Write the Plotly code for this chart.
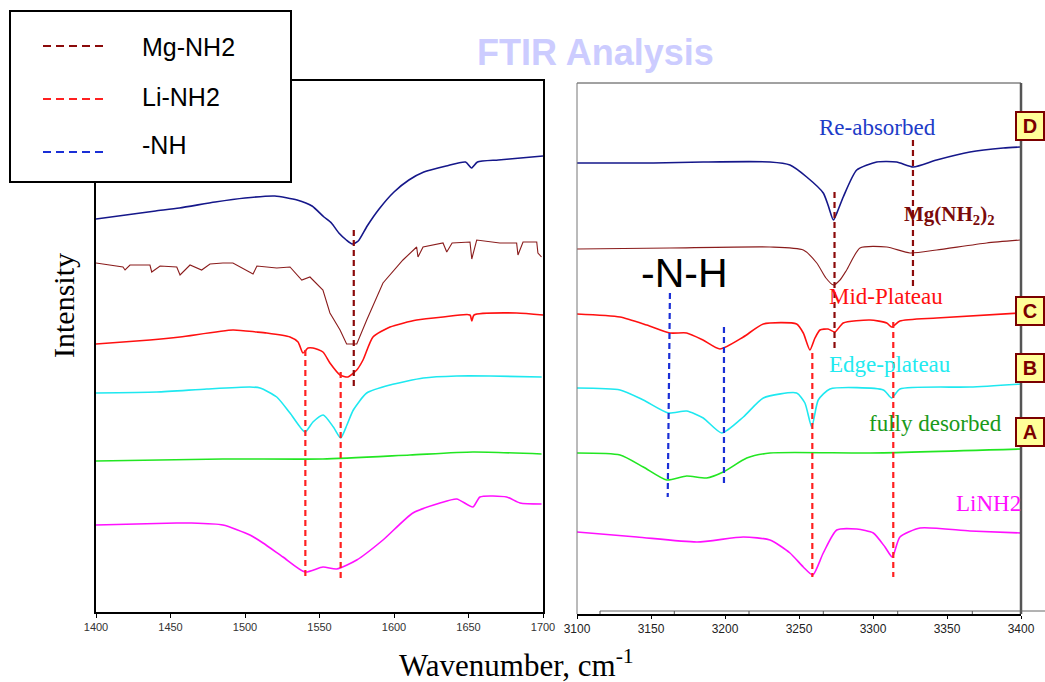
import plotly.graph_objects as go

W, H = 1045, 682

# ---------------- data: left panel (1400-1700 cm-1) ----------------
L_reabs_x = [1400, 1420, 1440, 1456, 1480, 1500, 1520, 1535, 1545, 1553, 1558, 1563, 1568, 1572, 1576, 1582, 1590, 1600, 1610, 1620, 1635, 1648, 1652, 1656, 1670, 1685, 1700]
L_reabs_y = [39.3, 39.7, 40.1, 40.4, 41.0, 41.4, 41.6, 41.2, 40.6, 39.5, 38.9, 37.9, 37.2, 36.8, 37.1, 38.6, 40.3, 42.0, 43.2, 44.0, 44.6, 45.0, 44.4, 45.0, 45.2, 45.4, 45.6]

L_mg_x = [1400, 1418.1, 1419.5, 1422.8, 1436.2, 1437.4, 1443, 1454.2, 1456.4, 1463.1, 1470.9, 1476.5, 1485.2, 1491.9, 1505.4, 1508, 1521.3, 1530.2, 1538.1, 1543.6, 1552.3, 1557, 1563.8, 1568.2, 1575, 1581.7, 1592.6, 1606, 1615.2, 1616.1, 1619.5, 1632.9, 1635.4, 1639, 1651, 1652.2, 1655.5, 1671, 1682.3, 1683.2, 1686.6, 1695.8, 1696.6, 1699]
L_mg_y = [34.9, 34.5, 34.2, 34.7, 34.7, 34.0, 34.6, 34.5, 33.7, 34.7, 34.2, 34.8, 34.9, 34.9, 33.8, 34.6, 34.4, 34.5, 33.2, 33.5, 32.2, 29.9, 28.2, 26.8, 26.8, 29.2, 32.9, 35.2, 36.5, 35.5, 36.5, 36.9, 36.0, 36.9, 37.0, 35.3, 37.2, 36.9, 36.9, 35.7, 37.0, 37.0, 35.9, 35.5]

L_mid_x = [1400, 1436.2, 1456.4, 1491.9, 1507.8, 1514.6, 1530.2, 1535.6, 1538.9, 1542.3, 1545.6, 1552.3, 1557, 1563.8, 1569.1, 1575, 1579.2, 1585.9, 1597.3, 1615.2, 1632.9, 1651, 1652.2, 1653.7, 1682.3, 1700]
L_mid_y = [26.8, 27.2, 27.5, 28.2, 28.0, 27.9, 27.5, 27.0, 25.9, 26.4, 26.4, 26.0, 24.9, 23.7, 23.5, 24.2, 25.2, 27.5, 28.5, 29.2, 29.5, 29.7, 29.1, 29.7, 29.9, 29.7]

L_edge_x = [1400, 1440.7, 1474.3, 1503.3, 1510.1, 1521.3, 1530.2, 1540.3, 1545.6, 1552.5, 1559.3, 1564.2, 1568.4, 1572.7, 1581.7, 1597.3, 1619.7, 1642.1, 1664.4, 1699.1]
L_edge_y = [21.9, 22.0, 22.3, 22.5, 22.4, 21.5, 19.9, 18.0, 19.0, 19.7, 18.5, 17.4, 18.7, 20.2, 21.9, 22.7, 23.4, 23.6, 23.6, 23.5]

L_full_x = [1400, 1485.2, 1552.3, 1610.7, 1653, 1699]
L_full_y = [15.1, 15.3, 15.3, 15.7, 16.0, 15.8]

L_linh2_x = [1400, 1454.2, 1463.1, 1485.2, 1503.3, 1512.1, 1525.5, 1540.3, 1552.3, 1561.5, 1575, 1592.6, 1612.7, 1630.9, 1642.1, 1653, 1657.7, 1675.6, 1684.6, 1699]
L_linh2_y = [8.7, 8.9, 8.9, 8.7, 7.7, 6.9, 5.5, 4.0, 4.5, 4.3, 5.2, 7.2, 9.9, 10.9, 11.3, 10.5, 11.5, 11.5, 10.9, 10.8]

# ---------------- data: right panel (3100-3400 cm-1) ----------------
R_reabs_x = [3100, 3117.8, 3151.6, 3185.3, 3230.4, 3243.9, 3255.2, 3266.4, 3269.6, 3273.2, 3276.4, 3279.9, 3289, 3302.5, 3316, 3327.2, 3343, 3365.5, 3388, 3399.3]
R_reabs_y = [45.1, 45.1, 45.1, 45.2, 45.2, 44.9, 43.7, 42.1, 40.9, 39.4, 40.4, 41.7, 44.4, 45.2, 45.2, 44.7, 45.4, 46.2, 46.6, 46.7]

R_mg_x = [3100, 3162.8, 3230.4, 3252.9, 3262, 3268.2, 3273.2, 3277.7, 3282.2, 3291.2, 3309.3, 3325, 3343, 3376.8, 3399.3]
R_mg_y = [36.5, 36.6, 36.7, 36.4, 35.1, 33.6, 32.9, 33.4, 34.4, 36.6, 36.7, 36.1, 36.4, 37.1, 37.4]

R_mid_x = [3100, 3129.1, 3147.1, 3162.8, 3174.1, 3185.1, 3196.6, 3212.4, 3225.9, 3248.4, 3252.9, 3257.4, 3260.8, 3264.2, 3269.6, 3274.3, 3279.9, 3298, 3309.3, 3312.6, 3318.2, 3343, 3399.3]
R_mid_y = [30.0, 29.7, 28.9, 28.1, 28.1, 27.4, 26.5, 27.7, 29.0, 29.0, 28.1, 26.4, 27.6, 28.4, 28.5, 28.2, 29.1, 29.4, 29.1, 28.7, 29.3, 29.6, 30.1]

R_edge_x = [3100, 3129.1, 3144.8, 3161.7, 3174.1, 3185.3, 3197.8, 3212.4, 3225.9, 3248.4, 3254, 3258.6, 3263, 3270.9, 3307, 3312.6, 3318.2, 3365.5, 3400]
R_edge_y = [22.6, 22.4, 21.4, 20.1, 20.3, 19.6, 18.1, 19.7, 21.6, 22.1, 21.1, 18.7, 21.4, 22.5, 22.4, 21.6, 22.5, 22.7, 23.0]

R_full_x = [3100, 3129.1, 3144.8, 3160.6, 3174.1, 3187.6, 3198.8, 3214.7, 3230.4, 3298, 3400]
R_full_y = [16.1, 15.9, 14.7, 13.4, 13.8, 13.6, 14.2, 15.6, 16.1, 16.1, 16.5]

R_linh2_x = [3100, 3140.5, 3181.1, 3212.4, 3230.4, 3243.9, 3252.9, 3259.3, 3266.4, 3275.5, 3289, 3300.2, 3308.1, 3313, 3318.2, 3331.8, 3365.5, 3400]
R_linh2_y = [8.2, 7.7, 7.2, 7.7, 7.4, 6.1, 4.7, 3.9, 6.1, 8.4, 8.5, 8.1, 6.7, 5.7, 7.7, 8.6, 8.3, 8.1]

# ---------------- marker lines (peak positions) ----------------
mg_left = ([1573, 1573], [38.2, 22.5])
li_left = [([1540.5, 1540.5], [26.2, 3.4]), ([1564.2, 1564.2], [24.0, 3.2])]
mg_right = [([3274, 3274], [42.2, 26.6]), ([3327, 3327], [47.4, 32.7])]
nh_right = [([3162.8, 3161.3], [32.1, 11.7]), ([3199.3, 3199.3], [28.7, 13.1])]
li_right = [([3259, 3259], [26.1, 3.7]), ([3313.7, 3313.7], [29.2, 3.7])]

left_ticks = [1400, 1450, 1500, 1550, 1600, 1650, 1700]
right_ticks = [3100, 3150, 3200, 3250, 3300, 3350, 3400]

# ---------------- styles ----------------
C_NAVY = "#15178a"
C_BROWN = "#8a1c1c"
C_RED = "#ff1010"
C_CYAN = "#1ee8f0"
C_GREEN = "#22e622"
C_MAG = "#ff10ff"
C_MGD = "#8b0a0a"
C_LID = "#ff2020"
C_NHD = "#1a2fd6"

def P(px, py):
    return px / W, 1 - py / H

fig = go.Figure()

def curve(x, y, color, axis, width=1.6, shape="spline"):
    fig.add_trace(go.Scatter(x=x, y=y, mode="lines", xaxis="x" if axis == 1 else "x2",
                             yaxis="y" if axis == 1 else "y2",
                             line=dict(color=color, width=width, shape=shape, smoothing=0.6),
                             showlegend=False, hoverinfo="skip"))

curve(L_reabs_x, L_reabs_y, C_NAVY, 1)
curve(L_mg_x, L_mg_y, C_BROWN, 1, width=1.1, shape="linear")
curve(L_mid_x, L_mid_y, C_RED, 1)
curve(L_edge_x, L_edge_y, C_CYAN, 1)
curve(L_full_x, L_full_y, C_GREEN, 1)
curve(L_linh2_x, L_linh2_y, C_MAG, 1)

curve(R_reabs_x, R_reabs_y, C_NAVY, 2)
curve(R_mg_x, R_mg_y, C_BROWN, 2, width=1.1)
curve(R_mid_x, R_mid_y, C_RED, 2)
curve(R_edge_x, R_edge_y, C_CYAN, 2)
curve(R_full_x, R_full_y, C_GREEN, 2)
curve(R_linh2_x, R_linh2_y, C_MAG, 2)

def dline(xy, color, axis):
    x, y = xy
    fig.add_trace(go.Scatter(x=x, y=y, mode="lines", xaxis="x" if axis == 1 else "x2",
                             yaxis="y" if axis == 1 else "y2",
                             line=dict(color=color, width=2.2, dash="6px,4px"),
                             showlegend=False, hoverinfo="skip"))

dline(mg_left, C_MGD, 1)
for s in li_left:
    dline(s, C_LID, 1)
for s in mg_right:
    dline(s, C_MGD, 2)
for s in nh_right:
    dline(s, C_NHD, 2)
for s in li_right:
    dline(s, C_LID, 2)

shapes = []
annotations = []

# right panel frame pieces
def pline(x0, y0, x1, y1, color, width, dash="solid"):
    a = P(x0, y0); b = P(x1, y1)
    shapes.append(dict(type="line", xref="paper", yref="paper", x0=a[0], y0=a[1], x1=b[0], y1=b[1],
                       line=dict(color=color, width=width, dash=dash), layer="above"))

pline(577, 83, 1021, 83, "#444444", 1)
pline(577, 83, 577, 614, "#777777", 1)
pline(1021, 83, 1021, 614, "#555555", 2.5)
# secondary offset axis line on the right panel
pline(600, 611, 1045, 611, "#666666", 1)
for tx in [600, 674.3, 749, 823.3, 897.7, 972.3]:
    pline(tx, 611, tx, 614, "#555555", 1)

# legend box
a = P(10, 11); b = P(291, 182)
shapes.append(dict(type="rect", xref="paper", yref="paper", x0=a[0], y0=b[1], x1=b[0], y1=a[1],
                   line=dict(color="black", width=2), fillcolor="white", layer="above"))
legend_items = [("Mg-NH2", C_MGD, 46, 47), ("Li-NH2", C_LID, 99, 97), ("-NH", C_NHD, 152, 145)]
for name, col, ly, ty in legend_items:
    pline(43, ly, 108, ly, col, 2, dash="8px,5px")
    p = P(140, ty)
    annotations.append(dict(text=name, xref="paper", yref="paper", x=p[0], y=p[1], xanchor="left",
                            yanchor="middle", showarrow=False,
                            font=dict(family="Liberation Sans, Arial", size=25, color="black")))

def txt(s, px, py, color, size, family="Liberation Serif, Times New Roman", xanchor="center", angle=0):
    p = P(px, py)
    annotations.append(dict(text=s, xref="paper", yref="paper", x=p[0], y=p[1], xanchor=xanchor,
                            yanchor="middle", showarrow=False, textangle=angle,
                            font=dict(family=family, size=size, color=color)))

txt("<b>FTIR Analysis</b>", 595, 52, "#ccccff", 36, family="Liberation Sans, Arial")
txt("Re-absorbed", 877, 127, "#1e3cc8", 23)
txt("<b>Mg(NH<sub>2</sub>)<sub>2</sub></b>", 949, 215, "#7a0a0a", 21)
txt("-N-H", 684, 273, "black", 41, family="Liberation Sans, Arial")
txt("Mid-Plateau", 886, 296, "#ff1010", 23)
txt("Edge-plateau", 890, 364, "#22eaf0", 23)
txt("fully desorbed", 935, 423, "#1a9a1a", 23)
txt("LiNH2", 988, 503, "#ff10ff", 23)
txt("Wavenumber, cm<sup>-1</sup>", 516, 663, "black", 31)
txt("Intensity", 63, 306, "black", 30, angle=-90)

for lab, cy in [("D", 126), ("C", 311), ("B", 368), ("A", 432)]:
    p = P(1030, cy)
    annotations.append(dict(text="<b>%s</b>" % lab, xref="paper", yref="paper", x=p[0], y=p[1],
                            xanchor="center", yanchor="middle", showarrow=False,
                            font=dict(family="Liberation Sans, Arial", size=20, color="#7a0000"),
                            bgcolor="#ffff99", bordercolor="#7a0000", borderwidth=2, borderpad=1,
                            width=24, height=24))

axis_common = dict(showgrid=False, zeroline=False, automargin=False)
fig.update_layout(
    width=W, height=H, autosize=False,
    margin=dict(l=0, r=0, t=0, b=0, pad=0, autoexpand=False),
    paper_bgcolor="white", plot_bgcolor="white",
    xaxis=dict(domain=[96 / W, 543 / W], range=[1400, 1700], tickvals=left_ticks,
               ticks="outside", ticklen=4, tickcolor="black", showline=True, linecolor="black",
               linewidth=2, mirror=True, anchor="y",
               tickfont=dict(family="Liberation Sans, Arial", size=11, color="#333333"), **axis_common),
    yaxis=dict(domain=[1 - 612 / H, 1 - 81 / H], range=[0, 53.1], showticklabels=False,
               ticks="", showline=True, linecolor="black", linewidth=2, mirror=True, anchor="x",
               **axis_common),
    xaxis2=dict(domain=[577 / W, 1021 / W], range=[3100, 3400], tickvals=right_ticks,
                ticks="outside", ticklen=3, tickcolor="black", showline=True, linecolor="black",
                linewidth=1.5, anchor="y2",
                tickfont=dict(family="Liberation Sans, Arial", size=12, color="#222222"), **axis_common),
    yaxis2=dict(domain=[1 - 614 / H, 1 - 83 / H], range=[0, 53.1], showticklabels=False,
                ticks="", showline=False, anchor="x2", **axis_common),
    shapes=shapes,
    annotations=annotations,
)

fig.write_html("out.html")
